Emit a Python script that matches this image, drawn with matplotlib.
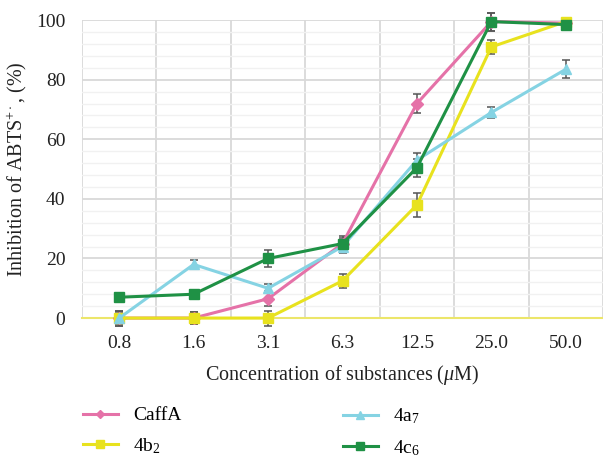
import numpy as np
import matplotlib
matplotlib.use('Agg')
import matplotlib.pyplot as plt
from matplotlib.lines import Line2D
from matplotlib.ticker import MultipleLocator, FixedLocator

plt.rcParams['font.family'] = ['Liberation Serif', 'DejaVu Serif']
plt.rcParams['mathtext.fontset'] = 'custom'
plt.rcParams['mathtext.rm'] = 'Liberation Serif'
plt.rcParams['mathtext.it'] = 'Liberation Serif:italic'

# Data
concentrations = ['0.8', '1.6', '3.1', '6.3', '12.5', '25.0', '50.0']

caffa = [0, 0, 6.5, 25, 72, 99.5, 99]
caffa_err = [2.5, 2, 2.5, 2, 3.2, 3, 1.5]

b2 = [0, 0, 0, 12.5, 38, 91, 99.5]
b2_err = [2.5, 2, 2.5, 2.3, 4, 2.4, 1]

a7 = [0, 18, 10, 24, 53, 69, 83.5]
a7_err = [2, 1.5, 1.5, 2, 2.5, 2, 3]

c6 = [7, 8, 20, 25, 50.5, 99.5, 98.5]
c6_err = [0.5, 0.5, 3, 2.5, 3, 3, 1.5]

series = [
    ('CaffA', caffa, caffa_err, '#e572a8', 'D', 6),
    (r'4b$_2$', b2, b2_err, '#e8e21e', 's', 7.5),
    (r'4a$_7$', a7, a7_err, '#85d3e3', '^', 7.5),
    (r'4c$_6$', c6, c6_err, '#1f9145', 's', 7.5),
]

fig = plt.figure(figsize=(6.03, 4.57), dpi=100)
ax = fig.add_axes([0.136, 0.304, 0.864, 0.652])

x = np.arange(len(concentrations))
handles = []
for label, vals, errs, color, marker, ms in series:
    ax.errorbar(x, vals, yerr=errs, color=color, marker=marker, markersize=ms,
                linewidth=2.2, ecolor='#555555', elinewidth=1.1, capsize=3,
                capthick=1.1, clip_on=False, zorder=3)
    handles.append(Line2D([], [], color=color, marker=marker, markersize=ms * 0.75,
                          linewidth=2.2, label=label))

ax.set_xlim(-0.5, len(concentrations) - 0.5)
ax.set_ylim(0, 100)
ax.set_xticks(x)
ax.set_xticklabels(concentrations)
ax.xaxis.set_minor_locator(FixedLocator(np.arange(-0.5, len(concentrations), 1.0)))
ax.yaxis.set_major_locator(MultipleLocator(20))
ax.yaxis.set_minor_locator(MultipleLocator(4))

ax.grid(which='major', axis='y', color='#d9d9d9', linewidth=1.3)
ax.grid(which='minor', axis='y', color='#f1f1f1', linewidth=1.0)
ax.grid(which='minor', axis='x', color='#d9d9d9', linewidth=1.3)
ax.set_axisbelow(True)

for side in ['left', 'right', 'top']:
    ax.spines[side].set_visible(False)
ax.spines['bottom'].set_color('#ece66a')
ax.spines['bottom'].set_linewidth(1.5)

ax.tick_params(which='both', length=0)
ax.tick_params(axis='x', pad=12, labelsize=14, colors='#222222')
ax.tick_params(axis='y', pad=12, labelsize=14, colors='#222222')

ax.set_xlabel(r'Concentration of substances ($\mathit{\mu}$M)', fontsize=14.5, color='#222222', labelpad=8)
ax.set_ylabel(r'Inhibition of ABTS$^{+\cdot}$, (%)', fontsize=14.5, color='#222222', labelpad=5)

# two legend columns, placed separately
legend_kw = dict(loc='upper left', frameon=False, fontsize=14, handlelength=1.8,
                 handletextpad=0.8, labelspacing=0.6, borderpad=0, borderaxespad=0)
fig.legend(handles=handles[:2], bbox_to_anchor=(0.137, 0.11), **legend_kw)
fig.legend(handles=handles[2:], bbox_to_anchor=(0.568, 0.11), **legend_kw)

fig.savefig('out.png', dpi=100)
